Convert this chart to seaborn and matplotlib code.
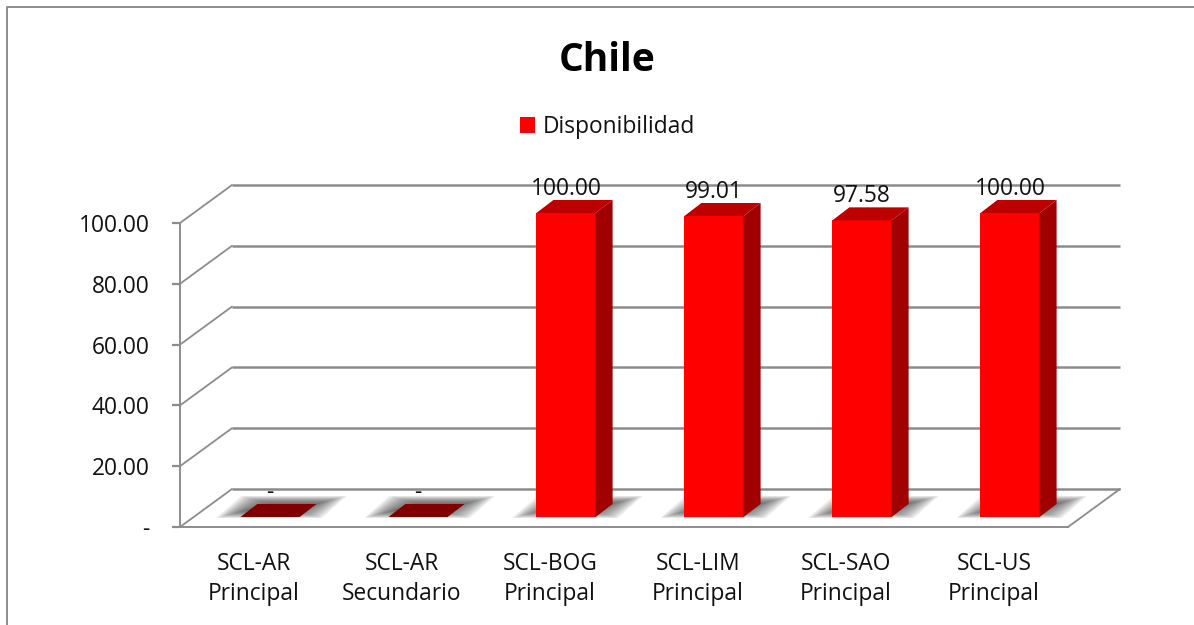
import matplotlib
matplotlib.use('Agg')
import matplotlib.pyplot as plt
import seaborn as sns
import pandas as pd
from matplotlib.lines import Line2D
from matplotlib.patches import Polygon
from matplotlib.transforms import Affine2D

categorias = ['SCL-AR\nPrincipal', 'SCL-AR\nSecundario', 'SCL-BOG\nPrincipal',
              'SCL-LIM\nPrincipal', 'SCL-SAO\nPrincipal', 'SCL-US\nPrincipal']
disponibilidad = [0, 0, 100.00, 99.01, 97.58, 100.00]
ticks_y = [0, 20, 40, 60, 80, 100]


def fmt(v):
    return '-' if v == 0 else f'{v:.2f}'


W, H = 1194, 625
GRIS = '#8c8c8c'
PARED = (52, 38)    # profundidad del piso y paredes, en pixeles
FRENTE = (16, 10)   # desplazamiento de la barra dentro del piso
FONDO = (17, 13)    # profundidad de cada barra
LETRA = 16.4

sns.set_theme(style='white')
plt.rcParams['font.family'] = ['Open Sans', 'DejaVu Sans']

df = pd.DataFrame({'enlace': categorias, 'valor': disponibilidad})

fig = plt.figure(figsize=(W / 100, H / 100), dpi=100)
ax = fig.add_axes([180 / W, (H - 527) / H, 888 / W, 304 / H])
ax.patch.set_alpha(0)
sns.barplot(data=df, x='enlace', y='valor', color='#ff0000', width=0.4, saturation=1,
            label='Disponibilidad', ax=ax, zorder=4)
ax.set_xlim(-0.5, 5.5)
ax.set_ylim(0, 100)
ax.set_xlabel('')
ax.set_ylabel('')
ax.set_yticks(ticks_y)
ax.set_yticklabels([fmt(t) for t in ticks_y])
for s in ['top', 'right']:
    ax.spines[s].set_visible(False)
for s in ['left', 'bottom']:
    ax.spines[s].set_color(GRIS)
    ax.spines[s].set_linewidth(1.4)
ax.tick_params(axis='y', left=True, length=6, width=1.6, color=GRIS, labelsize=LETRA, pad=16, labelcolor='#111111')
ax.tick_params(axis='x', length=0, labelsize=LETRA, pad=18, labelcolor='#111111')
for lab in ax.get_xticklabels():
    lab.set_linespacing(1.32)

# paredes: lineas de fondo y diagonales
fondo = ax.transData + Affine2D().translate(*PARED)
ax.hlines(ticks_y, -0.5, 5.5, colors=GRIS, linewidth=1.8, transform=fondo, clip_on=False, zorder=1)
for t in ticks_y:
    x0, y0 = ax.transData.transform((-0.5, t))
    fig.add_artist(Line2D([x0, x0 + PARED[0]], [y0, y0 + PARED[1]], color=GRIS, lw=1.3,
                          transform=None, zorder=1))
x0, y0 = ax.transData.transform((5.5, 0))
fig.add_artist(Line2D([x0, x0 + PARED[0]], [y0, y0 + PARED[1]], color=GRIS, lw=1.3, transform=None, zorder=1))

# caras 3d de las barras, sombra y etiquetas
frente = ax.transData + Affine2D().translate(*FRENTE)
for barra, v in zip(ax.patches, disponibilidad):
    barra.set_transform(frente)
    barra.set_clip_on(False)
    barra.set_linewidth(0)
    (xa, ya), (xb, yb) = ax.transData.transform(
        [(barra.get_x(), 0), (barra.get_x() + barra.get_width(), v)])
    xa, xb = xa + FRENTE[0], xb + FRENTE[0]
    ya, yb = ya + FRENTE[1], yb + FRENTE[1]

    # sombra difusa sobre el piso
    for k in range(12):
        izq, der, abajo, arriba = xa - 24 + 2.6 * k, xb + 22 - 2.6 * k, ya - 1 + 0.7 * k, ya + 21 - 0.7 * k
        ax.add_patch(Polygon([(izq, abajo), (der, abajo), (der + 25, arriba), (izq + 25, arriba)],
                             closed=True, facecolor='#444444', alpha=0.11, linewidth=0,
                             transform=None, clip_on=False, zorder=2))

    dx, dy = FONDO
    if v > 0:
        ax.add_patch(Polygon([(xb, ya), (xb + dx, ya + dy), (xb + dx, yb + dy), (xb, yb)], closed=True,
                             facecolor='#a00000', linewidth=0, transform=None, clip_on=False, zorder=4))
    color_tapa = '#bb0000' if v > 0 else '#800000'
    ax.add_patch(Polygon([(xa, yb), (xb, yb), (xb + dx, yb + dy), (xa + dx, yb + dy)], closed=True,
                         facecolor=color_tapa, linewidth=0, transform=None, clip_on=False, zorder=4))

    ax.annotate(fmt(v), (barra.get_x() + barra.get_width() / 2, v), xycoords=frente,
                xytext=(0, 13), textcoords='offset points', ha='center', va='baseline',
                fontsize=LETRA, color='#111111', zorder=6, annotation_clip=False)

ax.legend(loc='center', bbox_to_anchor=(608 / W, (H - 127) / H), bbox_transform=fig.transFigure,
          frameon=False, fontsize=LETRA, handlelength=0.65, handleheight=0.75, handletextpad=0.35,
          labelcolor='#111111')

fig.text(607 / W, (H - 71) / H, 'Chile', ha='center', va='baseline', fontsize=28,
         fontweight='bold', color='#000000')

# marco exterior
fig.add_artist(Line2D([7, 7, W], [0, H - 7, H - 7], color=GRIS, lw=1.4, transform=None))

fig.savefig('out.png', dpi=100)
